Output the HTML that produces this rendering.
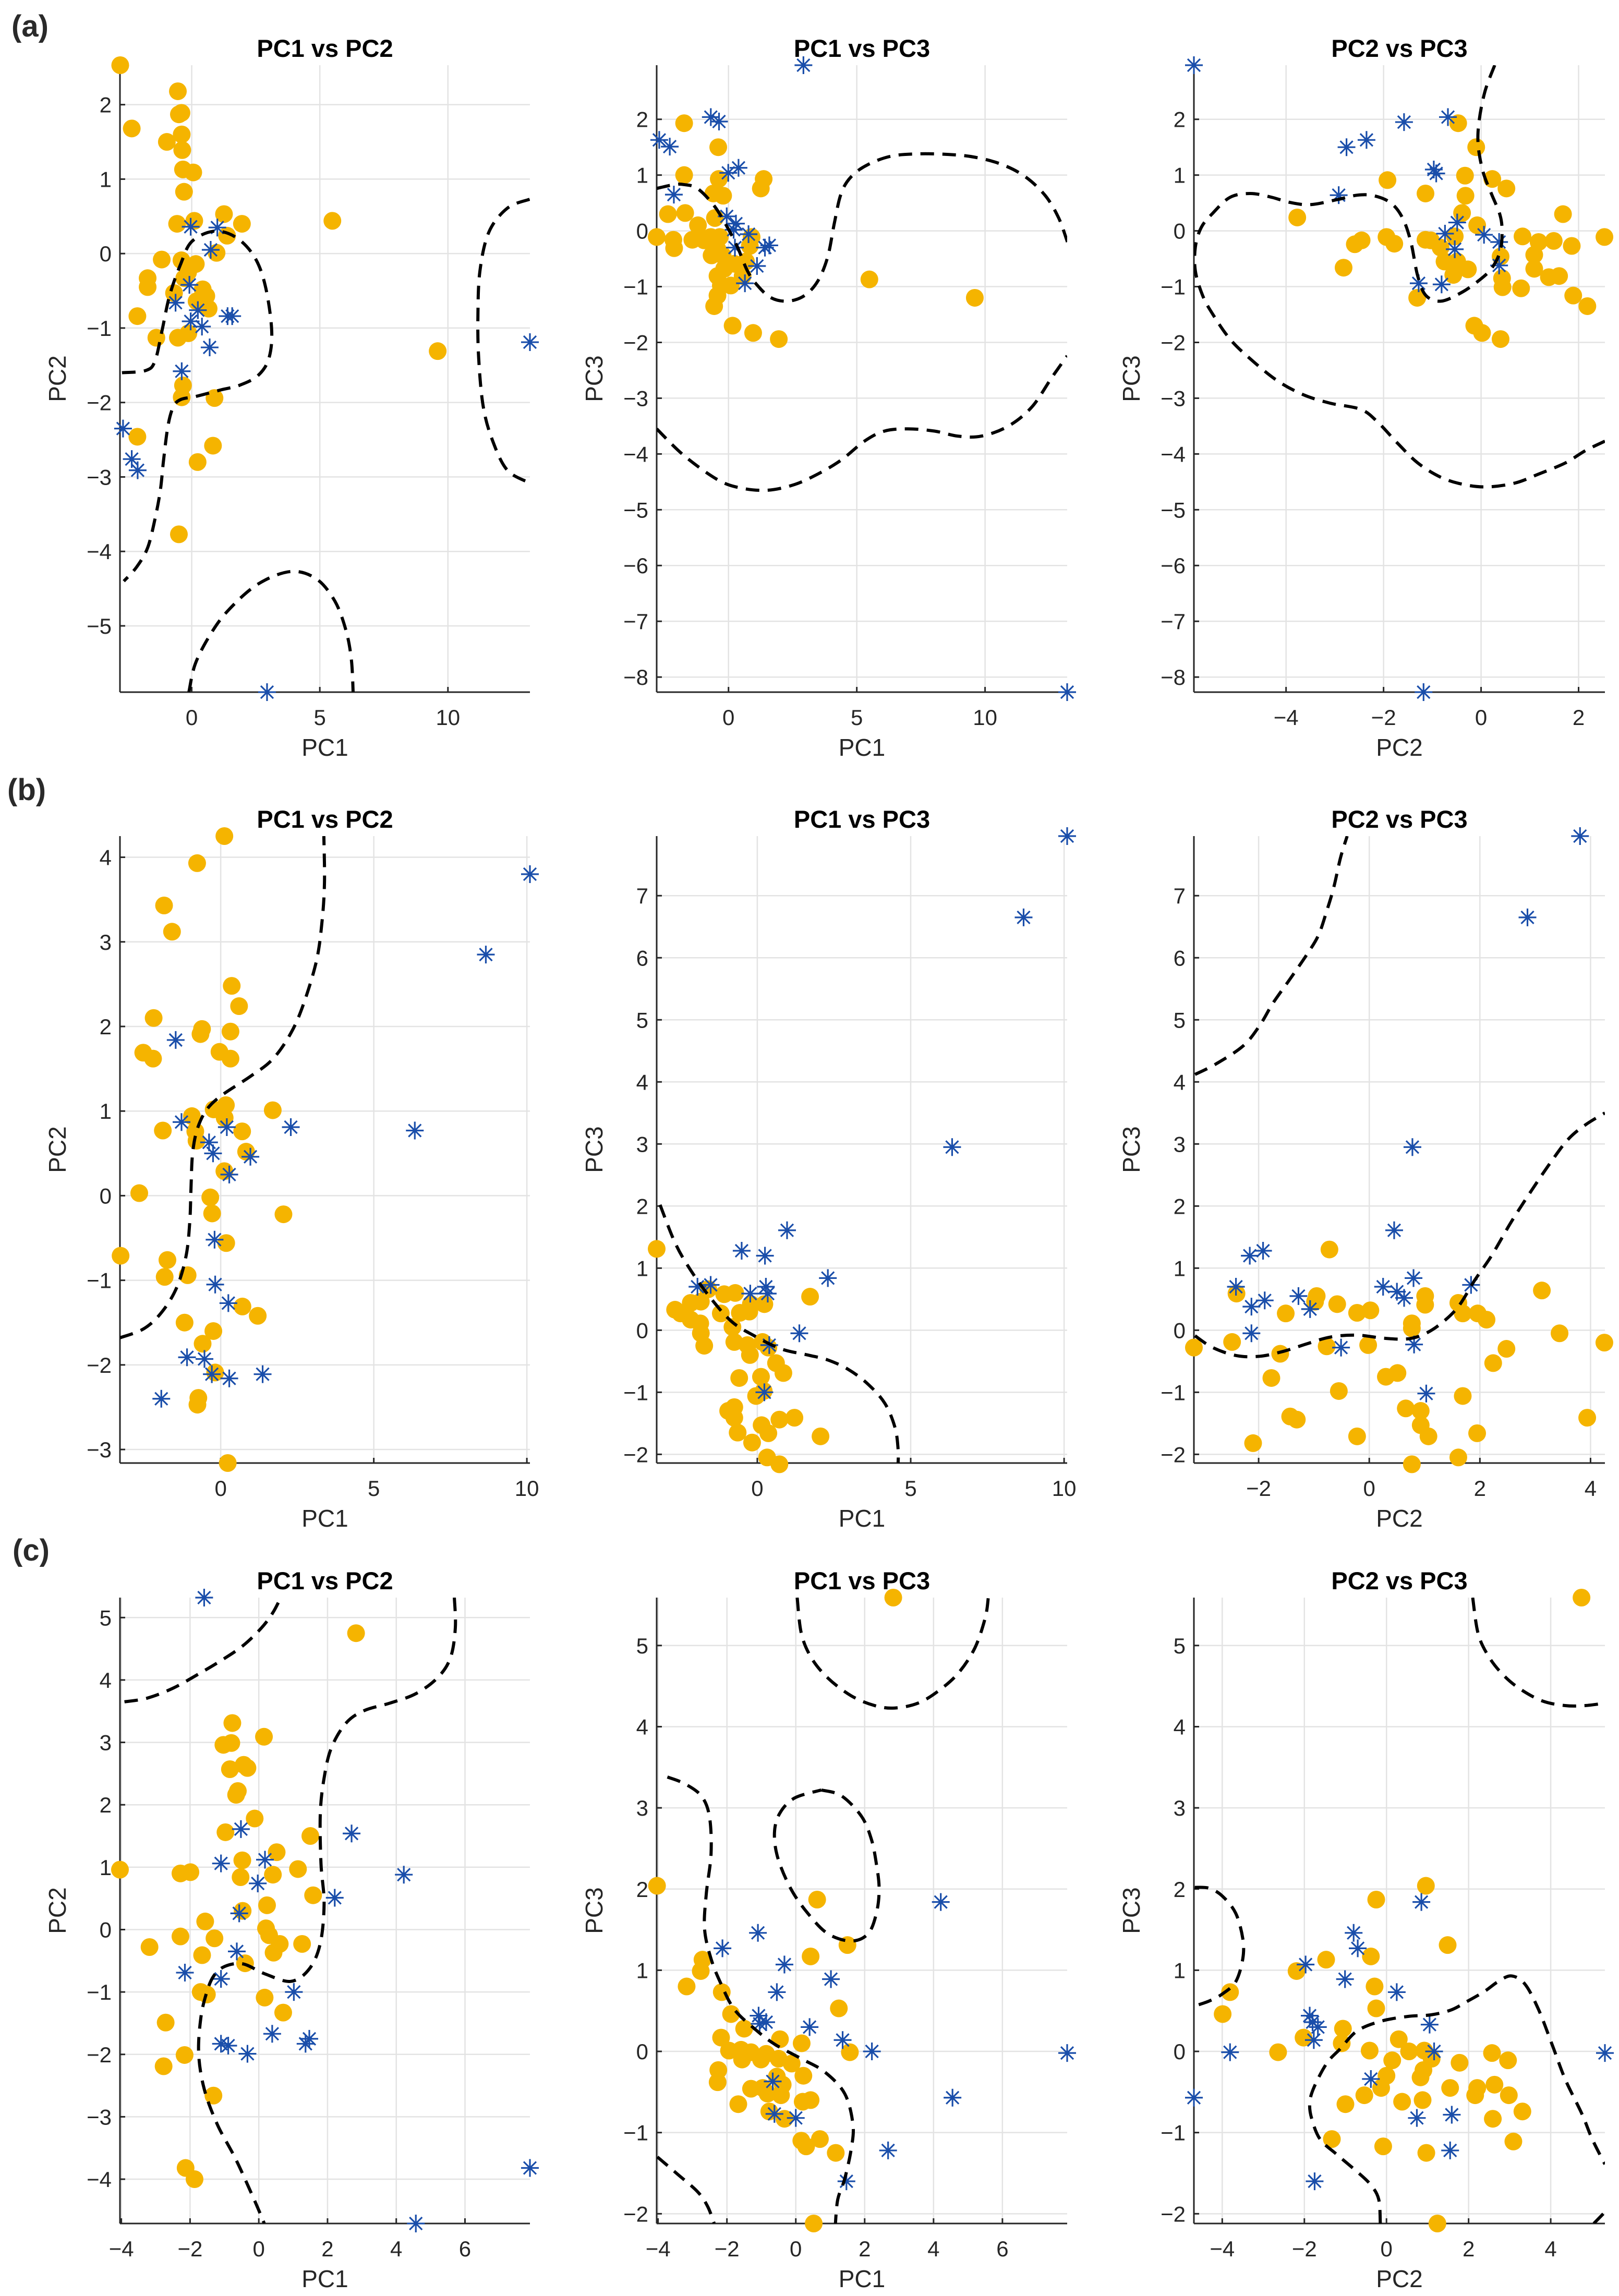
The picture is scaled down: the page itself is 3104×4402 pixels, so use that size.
<!DOCTYPE html>
<html><head><meta charset="utf-8"><title>PCA scatter panels</title>
<style>
html,body{margin:0;padding:0;background:#fff;}
svg{display:block;font-family:"Liberation Sans",Arial,sans-serif;}
</style></head>
<body>
<svg id="fig" xmlns="http://www.w3.org/2000/svg" width="3104" height="4402" viewBox="0 0 3104 4402">
<rect x="0" y="0" width="3104" height="4402" fill="#fff"/>
<text x="22" y="70" font-size="58" font-weight="bold" fill="#2a2a2a">(a)</text>
<text x="14" y="1534" font-size="58" font-weight="bold" fill="#2a2a2a">(b)</text>
<text x="24" y="2992" font-size="58" font-weight="bold" fill="#2a2a2a">(c)</text>
</svg>
<script>
// ---------- data (a) ----------
const a1Orange=[[-2.79,2.53],[-2.34,1.68],[-0.54,2.18],[-0.5,1.87],[-0.4,1.89],[-0.97,1.5],[-0.39,1.6],[-0.37,1.39],[-0.34,1.13],[0.06,1.09],[-0.3,0.83],[1.26,0.53],[1.96,0.4],[-0.57,0.4],[0.1,0.44],[1.38,0.24],[5.49,0.44],[0.97,0.01],[-1.17,-0.08],[-0.4,-0.09],[0.16,-0.14],[-0.14,-0.25],[-1.72,-0.33],[-1.72,-0.45],[-0.29,-0.33],[-0.69,-0.53],[0.43,-0.48],[0.57,-0.57],[0.19,-0.64],[0.66,-0.74],[-2.12,-0.84],[-1.38,-1.13],[-0.54,-1.13],[-0.13,-1.07],[9.6,-1.31],[-0.34,-1.77],[-0.39,-1.93],[0.89,-1.94],[-2.12,-2.46],[0.83,-2.58],[0.23,-2.8],[-0.5,-3.77]];
const a1Stars=[[-0.04,0.36],[1.0,0.35],[0.74,0.05],[-0.09,-0.42],[-0.63,-0.66],[0.24,-0.76],[-0.04,-0.91],[0.4,-0.98],[1.4,-0.84],[1.58,-0.84],[0.7,-1.26],[-0.39,-1.58],[-2.68,-2.35],[-2.34,-2.76],[-2.11,-2.91],[13.2,-1.19],[2.94,-5.89]];
const a1Curve1=[[-2.72,-1.6],[-1.79,-1.57],[-1.43,-1.44],[-1.15,-1.02],[-0.86,-0.56],[-0.43,-0.14],[0,0.16],[0.86,0.3],[1.72,0.22],[2.44,-0.04],[2.87,-0.43],[3.12,-1.02],[3.01,-1.41],[2.58,-1.64],[1.86,-1.77],[1.15,-1.83],[0.14,-1.92],[-0.43,-1.96],[-0.72,-2.06],[-0.93,-2.32],[-1.1,-2.78],[-1.22,-3.17],[-1.43,-3.56],[-1.72,-3.95],[-2.15,-4.21],[-2.65,-4.4]];
const a1Curve2=[[13.19,0.73],[12.32,0.61],[11.6,0.29],[11.25,-0.23],[11.17,-0.82],[11.2,-1.41],[11.38,-2.06],[11.75,-2.52],[12.32,-2.91],[13.19,-3.08]];
const a1Curve3=[[-0.11,-5.89],[0.14,-5.51],[0.72,-5.12],[1.43,-4.79],[2.58,-4.44],[3.87,-4.27],[4.87,-4.37],[5.59,-4.67],[6.02,-5.06],[6.23,-5.45],[6.3,-5.89]];

const a2Orange=[[-1.73,1.93],[-0.4,1.5],[-1.73,1.0],[-0.38,0.93],[1.37,0.93],[1.26,0.76],[-0.59,0.67],[-0.21,0.63],[-2.36,0.3],[-1.69,0.32],[-0.53,0.23],[-1.19,0.1],[-2.8,-0.11],[-2.15,-0.16],[-2.12,-0.31],[-1.41,-0.16],[-0.95,-0.17],[-0.69,-0.11],[-0.34,-0.11],[-0.43,-0.33],[-0.66,-0.44],[-0.23,-0.44],[0.9,-0.11],[0.83,-0.27],[0.68,-0.55],[0.22,-0.59],[-0.17,-0.68],[-0.43,-0.81],[0.55,-0.81],[0.09,-0.98],[-0.3,-0.98],[-0.43,-1.16],[-0.56,-1.35],[0.16,-1.7],[0.96,-1.83],[1.96,-1.94],[5.49,-0.87],[9.6,-1.2]];
const a2Stars=[[2.92,2.97],[-0.69,2.04],[-0.37,1.96],[-2.7,1.63],[-2.29,1.51],[-0.01,1.04],[0.39,1.13],[-2.13,0.65],[-0.07,0.26],[0.29,0.13],[0.2,0.02],[0.78,-0.06],[0.25,-0.3],[1.42,-0.3],[1.59,-0.26],[1.11,-0.63],[0.64,-0.94],[13.2,-8.27]];
const a2Curve1=[[-2.8,0.76],[-2.12,0.83],[-1.73,0.83],[-1.21,0.76],[-0.56,0.45],[-0.04,0.06],[0.35,-0.29],[0.74,-0.72],[1.13,-0.98],[1.66,-1.2],[2.31,-1.26],[2.96,-1.16],[3.48,-0.9],[3.87,-0.46],[4.13,0.15],[4.39,0.67],[4.78,0.97],[5.44,1.19],[6.35,1.34],[7.39,1.38],[8.57,1.37],[9.61,1.32],[10.66,1.19],[11.57,0.97],[12.35,0.63],[12.87,0.23],[13.21,-0.2]];
const a2Curve2=[[-2.8,-3.55],[-1.73,-4.03],[-0.43,-4.46],[0.48,-4.61],[1.52,-4.65],[2.56,-4.55],[3.48,-4.36],[4.39,-4.11],[5.3,-3.77],[6.08,-3.59],[6.99,-3.55],[8.03,-3.59],[8.94,-3.68],[9.86,-3.68],[10.91,-3.5],[11.82,-3.16],[12.6,-2.63],[13.2,-2.24]];

const a3Orange=[[-3.77,0.24],[-1.92,0.91],[-2.82,-0.66],[-2.59,-0.24],[-2.45,-0.17],[-1.94,-0.11],[-1.78,-0.23],[-1.14,0.67],[-1.14,-0.16],[-1.03,-0.17],[-1.31,-1.2],[-0.47,1.93],[-0.1,1.5],[-0.33,0.99],[0.23,0.93],[0.52,0.76],[-0.32,0.63],[-0.39,0.32],[-0.08,0.1],[-0.54,-0.1],[-0.83,-0.3],[-0.75,-0.55],[-0.49,-0.55],[-0.27,-0.69],[-0.57,-0.79],[0.4,-0.46],[0.43,-0.85],[0.44,-1.01],[0.82,-1.03],[0.85,-0.1],[1.18,-0.2],[1.09,-0.43],[1.09,-0.68],[1.49,-0.18],[1.68,0.3],[1.86,-0.27],[1.39,-0.83],[1.6,-0.81],[1.89,-1.16],[2.18,-1.35],[2.53,-0.11],[-0.14,-1.7],[0.02,-1.83],[0.4,-1.94]];
const a3Stars=[[-5.89,2.97],[-2.76,1.5],[-2.35,1.63],[-1.58,1.95],[-0.68,2.04],[-0.97,1.1],[-0.92,1.03],[-2.92,0.64],[-0.74,-0.05],[-0.49,0.15],[0.06,-0.07],[0.37,-0.2],[-0.54,-0.33],[0.37,-0.62],[-1.28,-0.94],[-0.81,-0.96],[-1.18,-8.27]];
const a3Curve1=[[0.28,2.97],[0.08,2.5],[-0.04,1.97],[-0.06,1.54],[0.04,1.06],[0.21,0.67],[0.39,0.28],[0.43,-0.03],[0.39,-0.37],[0.21,-0.68],[-0.06,-0.9],[-0.41,-1.11],[-0.82,-1.26],[-1.13,-1.16],[-1.3,-0.81],[-1.44,-0.2],[-1.61,0.23],[-1.85,0.5],[-2.2,0.63],[-2.54,0.64],[-2.95,0.56],[-3.5,0.47],[-3.92,0.51],[-4.33,0.61],[-4.74,0.67],[-5.15,0.6],[-5.5,0.32],[-5.74,0.06],[-5.86,-0.29],[-5.86,-0.72],[-5.71,-1.16],[-5.5,-1.5],[-5.15,-1.94],[-4.74,-2.29],[-4.19,-2.68],[-3.64,-2.94],[-3.09,-3.09],[-2.47,-3.2],[-2.13,-3.42],[-1.71,-3.81],[-1.3,-4.16],[-0.82,-4.42],[-0.34,-4.55],[0.14,-4.59],[0.7,-4.52],[1.18,-4.36],[1.73,-4.16],[2.14,-3.94],[2.54,-3.77]];

// ---------- data (b) ----------
const b1Orange=[[0.12,4.25],[-0.77,3.93],[-1.85,3.43],[-1.59,3.12],[0.36,2.48],[0.6,2.24],[-2.19,2.1],[-0.61,1.97],[-0.66,1.91],[0.32,1.94],[-2.53,1.69],[-2.21,1.62],[-0.04,1.7],[0.32,1.62],[-0.23,1.02],[0.17,1.07],[0.13,0.92],[1.7,1.01],[-0.94,0.94],[-1.89,0.77],[-0.83,0.76],[-0.79,0.65],[0.7,0.76],[0.83,0.52],[0.12,0.29],[-2.66,0.03],[-0.34,-0.02],[-0.28,-0.21],[2.05,-0.22],[0.18,-0.56],[-3.27,-0.71],[-1.74,-0.76],[-1.83,-0.96],[-1.08,-0.94],[0.71,-1.31],[1.21,-1.42],[-1.18,-1.5],[-0.24,-1.6],[-0.59,-1.75],[-0.18,-2.09],[-0.73,-2.39],[-0.76,-2.47],[0.23,-3.16]];
const b1Stars=[[10.1,3.8],[8.66,2.85],[6.34,0.77],[2.29,0.81],[-1.47,1.84],[-1.28,0.87],[0.2,0.81],[-0.38,0.63],[-0.25,0.5],[0.97,0.46],[0.28,0.25],[-0.2,-0.52],[-0.18,-1.05],[0.25,-1.27],[-1.1,-1.91],[-0.53,-1.93],[-0.29,-2.11],[0.28,-2.16],[1.37,-2.11],[-1.94,-2.4]];
const b1Curve1=[[-3.29,-1.68],[-2.5,-1.57],[-1.91,-1.37],[-1.43,-1.08],[-1.13,-0.71],[-1.01,-0.31],[-0.97,0.09],[-0.92,0.49],[-0.77,0.78],[-0.47,1.01],[0.01,1.18],[0.97,1.41],[1.69,1.61],[2.29,1.92],[2.71,2.27],[3.13,2.78],[3.31,3.24],[3.39,3.7],[3.37,4.25]];

const b2Orange=[[-3.28,1.31],[-1.6,0.66],[-2.17,0.44],[-1.84,0.46],[-1.08,0.58],[-0.72,0.6],[-2.68,0.33],[-2.5,0.27],[-2.17,0.17],[-1.86,0.11],[-1.84,-0.05],[-1.73,-0.25],[-1.19,0.27],[-0.57,0.28],[-0.26,0.3],[-0.21,0.42],[0.23,0.42],[-0.81,0.05],[-0.75,-0.19],[-0.32,-0.24],[-0.24,-0.4],[0.17,-0.19],[0.36,-0.28],[0.61,-0.53],[0.85,-0.69],[1.72,0.54],[-0.59,-0.77],[0.12,-0.75],[0.21,-0.98],[-0.04,-1.06],[-0.95,-1.3],[-0.75,-1.24],[-0.75,-1.41],[-0.64,-1.65],[0.14,-1.53],[0.36,-1.66],[0.72,-1.44],[1.21,-1.41],[2.06,-1.71],[-0.17,-1.81],[0.32,-2.05],[0.72,-2.16]];
const b2Stars=[[10.1,7.96],[8.68,6.65],[6.35,2.95],[0.97,1.61],[-0.51,1.28],[0.25,1.2],[2.3,0.84],[-1.95,0.7],[-1.52,0.73],[-0.23,0.59],[0.28,0.7],[0.34,0.59],[1.37,-0.05],[0.39,-0.24],[0.23,-1.0]];
const b2Curve1=[[-3.17,2.02],[-2.71,1.44],[-2.28,1.05],[-1.62,0.58],[-0.86,0.15],[-0.1,-0.09],[0.77,-0.3],[1.65,-0.4],[2.3,-0.48],[2.96,-0.63],[3.61,-0.87],[4.16,-1.18],[4.49,-1.57],[4.59,-1.92],[4.59,-2.14]];

const b3Orange=[[-3.17,-0.28],[-2.48,-0.19],[-2.4,0.59],[-2.1,-1.82],[-1.77,-0.77],[-1.61,-0.38],[-1.51,0.27],[-1.43,-1.39],[-1.31,-1.44],[-0.95,0.55],[-0.98,0.46],[-0.72,1.3],[-0.77,-0.26],[-0.58,0.42],[-0.55,-0.98],[-0.22,0.28],[0.02,0.32],[-0.22,-1.71],[-0.02,-0.24],[0.3,-0.75],[0.51,-0.69],[0.66,-1.26],[0.77,0.11],[0.77,0.03],[0.77,-2.16],[0.93,-1.3],[0.93,-1.53],[1.07,-1.71],[1.01,0.55],[1.01,0.41],[1.61,0.44],[1.69,0.27],[1.69,-1.06],[1.61,-2.05],[1.95,-1.66],[1.96,0.27],[2.12,0.17],[2.24,-0.53],[2.48,-0.3],[3.12,0.64],[3.44,-0.05],[3.94,-1.41],[4.25,-0.2]];
const b3Stars=[[3.81,7.96],[2.86,6.65],[0.78,2.95],[0.45,1.61],[-2.16,1.2],[-1.92,1.28],[-2.41,0.7],[-2.13,0.38],[-1.89,0.48],[-2.13,-0.05],[-1.28,0.55],[-1.07,0.34],[0.25,0.7],[0.5,0.62],[0.63,0.52],[0.8,0.84],[-0.51,-0.28],[0.81,-0.23],[1.03,-1.02],[1.84,0.73]];
const b3Curve1=[[-3.15,4.12],[-2.77,4.29],[-2.28,4.58],[-1.98,4.91],[-1.74,5.27],[-1.43,5.66],[-1.13,6.05],[-0.92,6.36],[-0.77,6.75],[-0.64,7.14],[-0.52,7.61],[-0.4,7.96]];
const b3Curve2=[[-3.15,-0.09],[-2.83,-0.28],[-2.4,-0.41],[-1.98,-0.42],[-1.55,-0.34],[-1.13,-0.22],[-0.7,-0.11],[-0.22,-0.08],[0.27,-0.13],[0.69,-0.14],[1.0,-0.06],[1.3,0.11],[1.61,0.38],[1.91,0.81],[2.21,1.2],[2.57,1.75],[2.94,2.26],[3.3,2.73],[3.6,3.08],[3.91,3.31],[4.26,3.5]];

// ---------- data (c) ----------
const c1Orange=[[2.83,4.75],[-0.77,3.31],[-1.03,2.96],[-0.8,2.99],[0.15,3.09],[-0.84,2.57],[-0.44,2.64],[-0.33,2.59],[-0.61,2.22],[-0.66,2.16],[-0.12,1.78],[-0.97,1.56],[1.5,1.5],[-0.48,1.11],[0.52,1.24],[1.14,0.97],[-4.04,0.96],[-2.28,0.9],[-1.99,0.92],[-0.53,0.84],[0.41,0.88],[1.58,0.55],[0.24,0.39],[-0.47,0.3],[-1.56,0.13],[-2.28,-0.11],[-1.29,-0.14],[-3.18,-0.28],[-1.65,-0.41],[0.21,0.02],[0.3,-0.09],[0.61,-0.23],[0.43,-0.37],[1.26,-0.23],[-0.4,-0.54],[-1.69,-1.0],[-1.51,-1.04],[0.17,-1.09],[0.71,-1.33],[-2.71,-1.49],[-2.16,-2.01],[-2.77,-2.19],[-1.32,-2.66],[-2.13,-3.82],[-1.87,-4.0]];
const c1Stars=[[-1.59,5.32],[-0.52,1.61],[0.18,1.12],[-1.1,1.06],[-0.03,0.74],[-0.57,0.26],[2.7,1.54],[4.22,0.88],[2.21,0.51],[-0.64,-0.35],[-2.15,-0.69],[-1.1,-0.79],[1.02,-1.0],[0.39,-1.67],[-1.1,-1.83],[-0.89,-1.86],[-0.33,-1.99],[1.36,-1.83],[1.47,-1.75],[7.89,-3.82],[4.57,-4.71]];
const c1Curve1=[[-3.91,3.65],[-3.24,3.71],[-2.49,3.87],[-1.74,4.1],[-1.1,4.31],[-0.46,4.55],[0.07,4.83],[0.4,5.07],[0.63,5.31]];
const c1Curve2=[[5.69,5.32],[5.72,4.84],[5.58,4.36],[5.21,4.04],[4.57,3.78],[3.82,3.63],[3.07,3.51],[2.54,3.31],[2.11,2.91],[1.9,2.43],[1.79,1.86],[1.81,1.06],[1.9,0.42],[1.79,-0.22],[1.47,-0.63],[0.93,-0.83],[0.18,-0.71],[-0.46,-0.55],[-0.99,-0.59],[-1.32,-0.75],[-1.53,-1.03],[-1.69,-1.43],[-1.75,-1.99],[-1.59,-2.55],[-1.21,-3.12],[-0.67,-3.68],[-0.14,-4.32],[0.16,-4.71]];

const c2Orange=[[2.83,5.59],[-4.03,2.04],[0.62,1.87],[1.5,1.31],[0.43,1.17],[-2.71,1.13],[-2.76,0.99],[-3.17,0.8],[-2.15,0.73],[1.25,0.53],[-1.88,0.46],[-1.5,0.28],[-2.17,0.17],[-0.46,0.15],[0.17,0.1],[1.57,-0.01],[-1.94,0.01],[-1.59,0.02],[-1.3,-0.01],[-0.86,-0.03],[-0.5,-0.09],[-0.12,-0.15],[-1.56,-0.1],[-1.01,-0.1],[-2.25,-0.23],[-2.27,-0.38],[0.22,-0.3],[-0.55,-0.31],[-1.3,-0.46],[-0.96,-0.45],[-0.38,-0.41],[-0.82,-0.52],[-0.43,-0.54],[-1.67,-0.65],[0.2,-0.62],[0.43,-0.6],[-0.77,-0.74],[-0.33,-0.83],[0.16,-1.1],[0.3,-1.17],[0.7,-1.08],[1.16,-1.25],[0.52,-2.12]];
const c2Stars=[[4.21,1.84],[-1.1,1.46],[-2.13,1.27],[-0.33,1.07],[1.02,0.89],[-0.55,0.73],[-1.08,0.44],[-0.86,0.36],[-1.05,0.34],[0.4,0.3],[1.36,0.14],[2.21,0],[7.88,-0.02],[4.55,-0.57],[-0.67,-0.37],[-0.62,-0.77],[0,-0.82],[2.68,-1.22],[1.47,-1.6]];
const c2Curve1=[[0.04,5.59],[0.16,5.15],[0.45,4.85],[0.93,4.6],[1.61,4.38],[2.29,4.26],[2.87,4.23],[3.55,4.29],[4.14,4.44],[4.72,4.66],[5.2,4.97],[5.5,5.34],[5.59,5.59]];
const c2Curve2=[[0.74,3.22],[1.32,3.15],[1.9,2.9],[2.19,2.62],[2.34,2.31],[2.42,2.0],[2.34,1.7],[2.1,1.45],[1.61,1.36],[0.93,1.45],[0.35,1.7],[-0.14,2.0],[-0.52,2.38],[-0.62,2.69],[-0.47,2.93],[-0.04,3.12],[0.74,3.22]];
const c2Curve3=[[-3.73,3.38],[-3.24,3.3],[-2.75,3.15],[-2.51,2.9],[-2.46,2.44],[-2.6,1.94],[-2.65,1.51],[-2.46,1.14],[-2.17,0.83],[-1.79,0.52],[-1.2,0.28],[-0.62,0.09],[0.16,-0.09],[0.83,-0.25],[1.42,-0.52],[1.66,-0.9],[1.61,-1.2],[1.42,-1.57],[1.22,-1.82],[1.15,-2.12]];
const c2Curve4=[[-4.02,-1.3],[-3.44,-1.51],[-2.85,-1.73],[-2.56,-1.91],[-2.37,-2.12]];

const c3Orange=[[4.75,5.59],[0.96,2.04],[-0.25,1.87],[1.49,1.31],[-1.47,1.13],[-2.19,0.99],[-0.38,1.17],[-3.81,0.73],[-3.99,0.46],[-0.29,0.8],[-0.25,0.53],[-1.06,0.28],[-2.02,0.17],[-1.09,0.1],[-2.64,-0.01],[-0.41,0.01],[0.3,0.15],[0.55,0],[0.92,0.01],[1.1,-0.09],[0.14,-0.11],[1.78,-0.14],[2.57,-0.02],[2.96,-0.11],[0.9,-0.23],[0.83,-0.32],[0,-0.3],[-0.13,-0.45],[1.55,-0.45],[2.21,-0.45],[2.16,-0.54],[2.63,-0.41],[2.98,-0.54],[-0.54,-0.54],[0.38,-0.62],[0.88,-0.6],[-1.0,-0.65],[3.31,-0.74],[2.59,-0.83],[-1.33,-1.08],[-0.08,-1.17],[0.97,-1.25],[3.09,-1.11],[1.24,-2.12]];
const c3Stars=[[0.85,1.84],[-0.8,1.46],[-0.7,1.27],[-1.97,1.07],[-1.01,0.89],[0.25,0.73],[-1.87,0.44],[-1.8,0.36],[-1.67,0.3],[-1.77,0.14],[1.05,0.33],[-3.81,-0.01],[1.16,0],[5.32,-0.02],[-4.69,-0.57],[-0.38,-0.34],[0.74,-0.82],[1.59,-0.78],[1.55,-1.22],[-1.75,-1.6]];
const c3Curve1=[[2.1,5.59],[2.23,5.15],[2.47,4.88],[2.8,4.66],[3.21,4.48],[3.78,4.32],[4.35,4.26],[4.84,4.26],[5.32,4.29]];
const c3Curve2=[[-4.67,2.02],[-4.32,2.01],[-3.99,1.91],[-3.67,1.7],[-3.5,1.39],[-3.5,1.14],[-3.67,0.86],[-3.99,0.71],[-4.32,0.62],[-4.67,0.56]];
const c3Curve3=[[-0.15,-2.12],[-0.19,-1.82],[-0.39,-1.64],[-0.72,-1.48],[-1.21,-1.27],[-1.62,-1.08],[-1.82,-0.83],[-1.87,-0.65],[-1.78,-0.46],[-1.46,-0.15],[-1.13,0.03],[-0.72,0.25],[-0.15,0.37],[0.51,0.43],[1.08,0.45],[1.57,0.51],[1.98,0.62],[2.39,0.74],[2.72,0.86],[3.04,0.93],[3.37,0.83],[3.7,0.52],[4.03,0.09],[4.35,-0.34],[4.76,-0.77],[5.01,-1.08],[5.32,-1.39]];
const c3Curve4=[[5.05,-2.12],[5.32,-1.98]];

// ---------- tick arrays ----------
const ticksX_0_5_10=[0,5,10];
const ticksX_m4_2=[-4,-2,0,2];
const ticksX_m2_4=[-2,0,2,4];
const ticksX_m4_6=[-4,-2,0,2,4,6];
const ticksX_m4_4=[-4,-2,0,2,4];
const ticksY_a1=[-5,-4,-3,-2,-1,0,1,2];
const ticksY_a23=[-8,-7,-6,-5,-4,-3,-2,-1,0,1,2];
const ticksY_b1=[-3,-2,-1,0,1,2,3,4];
const ticksY_b23=[-2,-1,0,1,2,3,4,5,6,7];
const ticksY_c1=[-4,-3,-2,-1,0,1,2,3,4,5];
const ticksY_c23=[-2,-1,0,1,2,3,4,5];

// ---------- layout ----------
const COLS=[[230,1016],[1259,2046],[2289,3077]];
const ROWS=[[125,1327],[1603,2805],[3063,4263]];

const panels=[
 {id:'a1',c:0,r:0,xr:[-2.8,13.2],yr:[-5.89,2.53],xt:ticksX_0_5_10,yt:ticksY_a1,title:'PC1 vs PC2',xl:'PC1',yl:'PC2',o:a1Orange,s:a1Stars,cv:[a1Curve1,a1Curve2,a1Curve3]},
 {id:'a2',c:1,r:0,xr:[-2.8,13.2],yr:[-8.27,2.97],xt:ticksX_0_5_10,yt:ticksY_a23,title:'PC1 vs PC3',xl:'PC1',yl:'PC3',o:a2Orange,s:a2Stars,cv:[a2Curve1,a2Curve2]},
 {id:'a3',c:2,r:0,xr:[-5.89,2.54],yr:[-8.27,2.97],xt:ticksX_m4_2,yt:ticksY_a23,title:'PC2 vs PC3',xl:'PC2',yl:'PC3',o:a3Orange,s:a3Stars,cv:[a3Curve1]},
 {id:'b1',c:0,r:1,xr:[-3.29,10.1],yr:[-3.16,4.25],xt:ticksX_0_5_10,yt:ticksY_b1,title:'PC1 vs PC2',xl:'PC1',yl:'PC2',o:b1Orange,s:b1Stars,cv:[b1Curve1]},
 {id:'b2',c:1,r:1,xr:[-3.28,10.1],yr:[-2.14,7.96],xt:ticksX_0_5_10,yt:ticksY_b23,title:'PC1 vs PC3',xl:'PC1',yl:'PC3',o:b2Orange,s:b2Stars,cv:[b2Curve1]},
 {id:'b3',c:2,r:1,xr:[-3.17,4.26],yr:[-2.14,7.96],xt:ticksX_m2_4,yt:ticksY_b23,title:'PC2 vs PC3',xl:'PC2',yl:'PC3',o:b3Orange,s:b3Stars,cv:[b3Curve1,b3Curve2]},
 {id:'c1',c:0,r:2,xr:[-4.04,7.89],yr:[-4.71,5.32],xt:ticksX_m4_6,yt:ticksY_c1,title:'PC1 vs PC2',xl:'PC1',yl:'PC2',o:c1Orange,s:c1Stars,cv:[c1Curve1,c1Curve2]},
 {id:'c2',c:1,r:2,xr:[-4.04,7.88],yr:[-2.12,5.59],xt:ticksX_m4_6,yt:ticksY_c23,title:'PC1 vs PC3',xl:'PC1',yl:'PC3',o:c2Orange,s:c2Stars,cv:[c2Curve1,c2Curve2,c2Curve3,c2Curve4]},
 {id:'c3',c:2,r:2,xr:[-4.69,5.32],yr:[-2.12,5.59],xt:ticksX_m4_4,yt:ticksY_c23,title:'PC2 vs PC3',xl:'PC2',yl:'PC3',o:c3Orange,s:c3Stars,cv:[c3Curve1,c3Curve2,c3Curve3,c3Curve4]}
];

const NS='http://www.w3.org/2000/svg';
const svg=document.getElementById('fig');
function mk(tag,attrs,parent){const e=document.createElementNS(NS,tag);for(const k in attrs)e.setAttribute(k,attrs[k]);(parent||svg).appendChild(e);return e;}
function fmt(v){return v<0?'\u2212'+Math.abs(v):String(v);}
function smooth(pts){
  if(pts.length<3){return 'M'+pts.map(p=>p[0].toFixed(1)+','+p[1].toFixed(1)).join(' L');}
  let d='M'+pts[0][0].toFixed(1)+','+pts[0][1].toFixed(1);
  for(let i=0;i<pts.length-1;i++){
    const p0=pts[i-1]||pts[i],p1=pts[i],p2=pts[i+1],p3=pts[i+2]||pts[i+1];
    const c1x=p1[0]+(p2[0]-p0[0])/6,c1y=p1[1]+(p2[1]-p0[1])/6;
    const c2x=p2[0]-(p3[0]-p1[0])/6,c2y=p2[1]-(p3[1]-p1[1])/6;
    d+=' C'+c1x.toFixed(1)+','+c1y.toFixed(1)+' '+c2x.toFixed(1)+','+c2y.toFixed(1)+' '+p2[0].toFixed(1)+','+p2[1].toFixed(1);
  }
  return d;
}

const defs=mk('defs',{});
panels.forEach(P=>{
  const L=COLS[P.c][0],R=COLS[P.c][1],T=ROWS[P.r][0],B=ROWS[P.r][1];
  const sx=v=>L+(v-P.xr[0])/(P.xr[1]-P.xr[0])*(R-L);
  const sy=v=>B-(v-P.yr[0])/(P.yr[1]-P.yr[0])*(B-T);
  const g=mk('g',{});
  
  
  const cp=mk('clipPath',{id:'clip-'+P.id},defs);
  mk('rect',{x:L,y:T,width:R-L,height:B-T},cp);
  const grid=mk('g',{stroke:'#e3e3e3','stroke-width':2.5},g);
  
  
  P.xt.forEach(t=>{mk('line',{x1:sx(t),x2:sx(t),y1:T,y2:B},grid);});
  P.yt.forEach(t=>{mk('line',{x1:L,x2:R,y1:sy(t),y2:sy(t)},grid);});
  const ax=mk('g',{stroke:'#262626','stroke-width':3,fill:'none'},g);
  
  
  mk('line',{x1:L,x2:L,y1:T,y2:B},ax);
  mk('line',{x1:L,x2:R,y1:B,y2:B},ax);
  P.xt.forEach(t=>{mk('line',{x1:sx(t),x2:sx(t),y1:B,y2:B-10},ax);});
  P.yt.forEach(t=>{mk('line',{x1:L,x2:L+10,y1:sy(t),y2:sy(t)},ax);});
  P.xt.forEach(t=>{
    const tx=mk('text',{x:sx(t),y:B+63,'font-size':42,'text-anchor':'middle',fill:'#262626'},g);
    tx.textContent=fmt(t);
    
    
  });
  P.yt.forEach(t=>{
    const tx=mk('text',{x:L-16,y:sy(t)+15,'font-size':42,'text-anchor':'end',fill:'#262626'},g);
    tx.textContent=fmt(t);
    
    
  });
  const xl=mk('text',{x:(L+R)/2,y:B+122,'font-size':46,'text-anchor':'middle',fill:'#262626'},g);
  xl.textContent=P.xl;
  
  
  const yx=L-120,yy=(T+B)/2;
  const yl=mk('text',{x:yx,y:yy+16,'font-size':46,'text-anchor':'middle',fill:'#262626',transform:'rotate(-90 '+yx+' '+(yy)+')'},g);
  yl.textContent=P.yl;
  
  
  const ti=mk('text',{x:(L+R)/2,y:T-16,'font-size':47,'font-weight':'bold','text-anchor':'middle',fill:'#000'},g);
  ti.textContent=P.title;
  
  
  const og=mk('g',{fill:'#F5B400'},g);
  
  
  P.o.forEach(p=>{
    const c=mk('circle',{cx:sx(p[0]),cy:sy(p[1]),r:17},og);
    
    
  });
  const sg=mk('g',{stroke:'#1A4EAA','stroke-width':3.2,fill:'none'},g);
  
  
  P.s.forEach(p=>{
    const x=sx(p[0]),y=sy(p[1]),a=17,d=12;
    const st=mk('path',{d:'M'+(x-a)+','+y+'H'+(x+a)+'M'+x+','+(y-a)+'V'+(y+a)+'M'+(x-d)+','+(y-d)+'L'+(x+d)+','+(y+d)+'M'+(x-d)+','+(y+d)+'L'+(x+d)+','+(y-d)},sg);
    
    
  });
  const cg=mk('g',{stroke:'#000','stroke-width':6,fill:'none','stroke-dasharray':'26 16','clip-path':'url(#clip-'+P.id+')'},g);
  
  
  P.cv.forEach(cv=>{
    const pts=cv.map(p=>[sx(p[0]),sy(p[1])]);
    const pa=mk('path',{d:smooth(pts)},cg);
    
    
  });
});
</script>
</body></html>
